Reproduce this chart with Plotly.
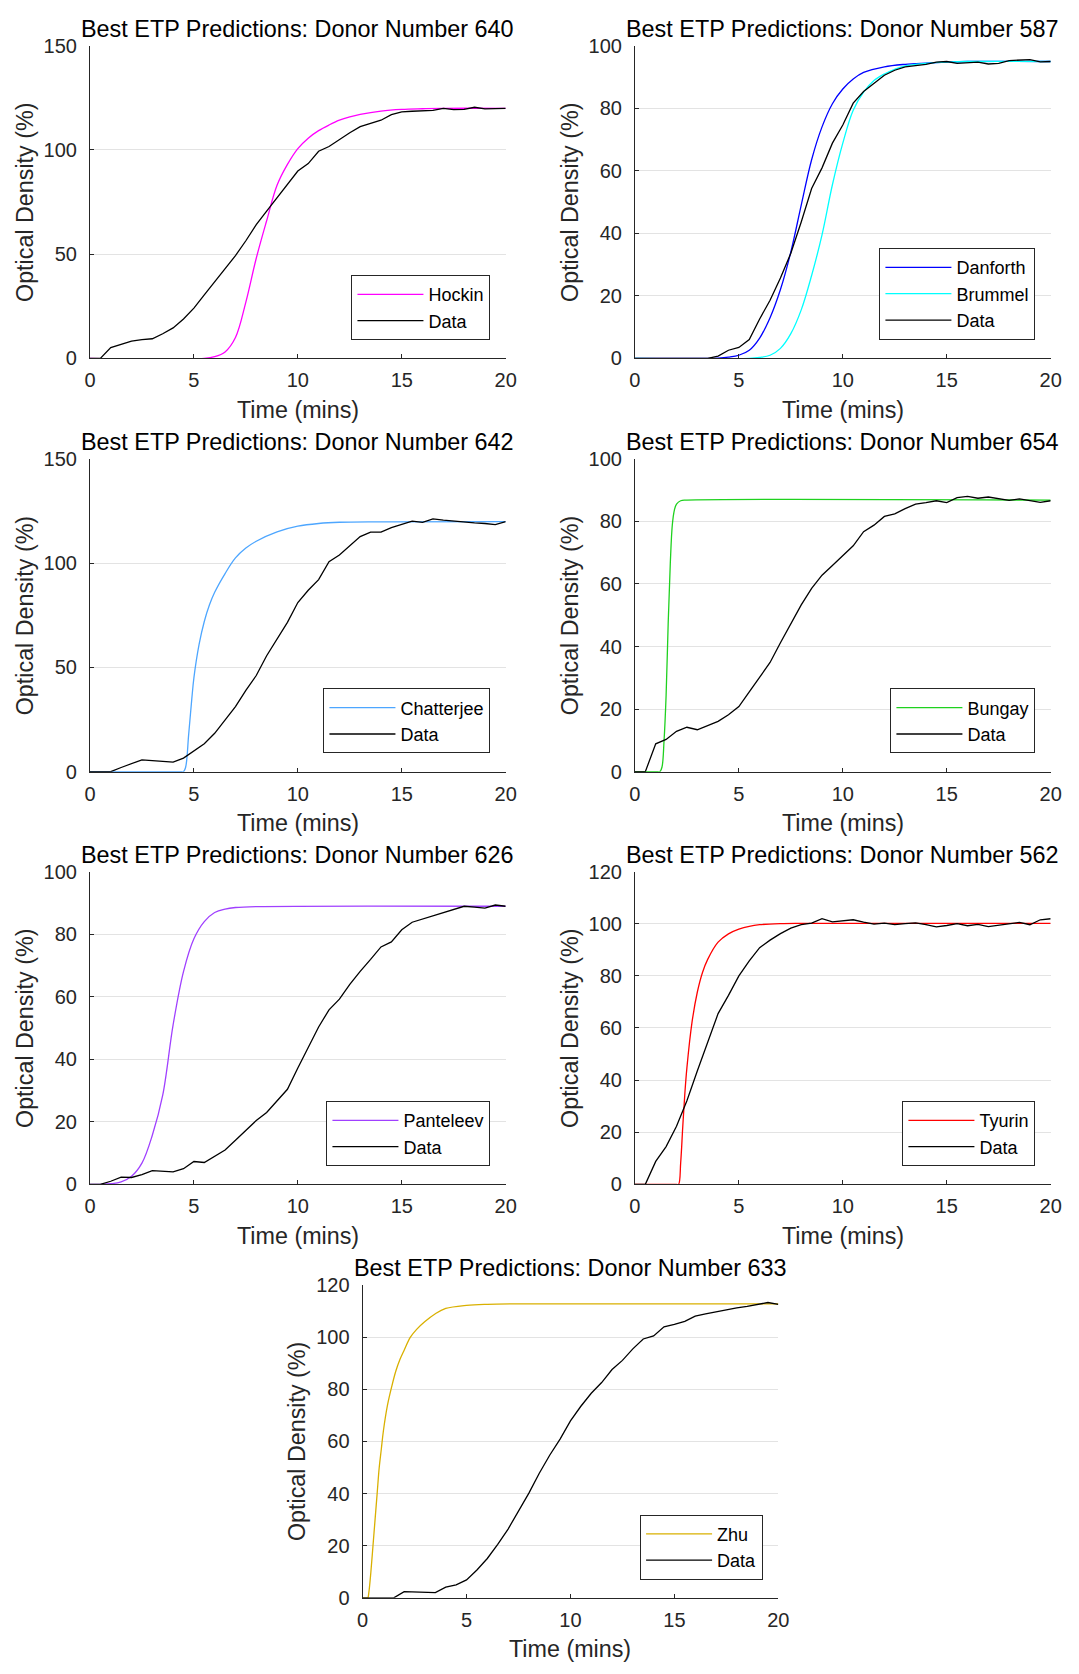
import plotly.graph_objects as go

W, H = 1079, 1674

# Sampling times of the measured curves (minutes)
t_data = [0, 0.5, 1, 1.5, 2, 2.5, 3, 3.5, 4, 4.5, 5, 5.5, 6, 6.5, 7, 7.5, 8, 8.5, 9, 9.5,
          10, 10.5, 11, 11.5, 12, 12.5, 13, 13.5, 14, 14.5, 15, 15.5, 16, 16.5, 17, 17.5,
          18, 18.5, 19, 19.5, 20]

# Measured optical density (%) per donor
data_640 = [0, 0, 5.2, 6.8, 8.3, 9.0, 9.4, 11.8, 14.6, 18.9, 24.1, 30.4, 36.7, 42.8, 49.3, 56.4,
            64.1, 70.6, 77.2, 83.5, 89.8, 93.4, 99.3, 101.6, 105.1, 108.2, 111.1, 112.6, 114.2,
            116.9, 118.2, 118.5, 118.6, 118.9, 119.9, 119.3, 119.4, 120.4, 119.6, 119.7, 119.9]
data_587 = [0, 0, 0, 0, 0, 0, 0, 0, 0.7, 2.6, 3.5, 6.0, 12.6, 18.6, 25.7, 33.6, 43.6, 54.3, 60.9,
            68.8, 74.6, 81.6, 85.3, 87.9, 90.5, 92.1, 93.2, 93.6, 94.0, 94.7, 94.9, 94.3, 94.5,
            94.7, 94.1, 94.3, 95.2, 95.4, 95.5, 94.8, 94.9]
data_642 = [0, 0, 0, 2.0, 3.9, 5.7, 5.3, 5.0, 4.6, 6.5, 9.9, 13.4, 18.4, 24.9, 31.2, 39.0, 46.1,
            55.6, 63.4, 71.6, 81.1, 87.0, 92.1, 100.7, 103.9, 108.3, 112.7, 114.9, 114.9, 117.0,
            118.5, 120.1, 119.5, 121.2, 120.6, 120.1, 119.8, 119.3, 119.0, 118.5, 119.9]
data_654 = [0, 0, 8.9, 10.3, 12.9, 14.2, 13.4, 14.8, 16.1, 18.2, 20.8, 25.5, 30.2, 34.9, 41.2,
            47.5, 53.3, 58.6, 62.8, 65.9, 69.0, 72.2, 76.7, 78.8, 81.6, 82.4, 84.1, 85.5, 86.0,
            86.6, 86.0, 87.6, 88.0, 87.4, 87.8, 87.2, 86.7, 87.2, 86.6, 86.1, 86.6]
data_626 = [0, 0, 1.0, 2.3, 2.2, 3.1, 4.4, 4.2, 4.0, 5.0, 7.3, 7.0, 8.9, 11.0, 14.1, 17.3, 20.4,
            23.0, 26.7, 30.4, 37.2, 44.0, 50.3, 55.8, 59.2, 63.9, 68.1, 71.9, 75.9, 77.5, 81.4,
            83.8, 84.8, 85.8, 86.8, 87.9, 88.9, 88.6, 88.3, 89.3, 88.9]
data_562 = [0, 0, 8.8, 14.5, 22.3, 32.1, 43.5, 54.8, 65.5, 72.5, 80.0, 85.7, 90.8, 93.7, 96.2,
            98.3, 99.6, 100.2, 101.9, 100.7, 101.1, 101.5, 100.6, 99.8, 100.2, 99.6, 100.0, 100.3,
            99.6, 98.8, 99.3, 100.0, 99.2, 99.7, 98.9, 99.5, 100.0, 100.5, 99.6, 101.5, 101.9]
data_633 = [0, 0, 0, 0, 2.4, 2.3, 2.1, 2.0, 4.1, 5.0, 6.9, 10.7, 15.1, 20.5, 26.4, 33.3, 40.2,
            47.8, 54.7, 60.9, 67.9, 73.5, 78.5, 82.6, 87.6, 91.1, 95.5, 99.3, 100.5, 104.0, 104.9,
            106.1, 108.1, 108.9, 109.7, 110.5, 111.2, 111.8, 112.6, 113.3, 112.6]

# Best-fitting model predictions (time, optical density %)
hockin_t = [0, 5.5, 6, 6.5, 7, 7.5, 8, 8.5, 9, 9.5, 10, 10.5, 11, 11.5, 12, 12.5, 13, 14, 15, 16, 17, 20]
hockin_y = [0, 0, 0.8, 3.1, 10, 27, 48, 66, 83, 93, 100.6, 105.6, 109.2, 111.9, 114.2, 115.8, 117,
            118.6, 119.4, 119.7, 119.9, 119.9]

danforth_t = [0, 3.5, 4, 4.5, 5, 5.5, 6, 6.5, 7, 7.5, 8, 8.5, 9, 9.5, 10, 10.5, 11, 12, 13, 14, 15, 16, 20]
danforth_y = [0, 0, 0.1, 0.4, 1.0, 2.6, 6.5, 13, 22, 34, 49, 63.5, 74, 81.4, 86.1, 89.3, 91.4,
              93.2, 94.0, 94.4, 94.7, 94.9, 94.9]

brummel_t = [0, 5.5, 6, 6.5, 7, 7.5, 8, 8.5, 9, 9.5, 10, 10.5, 11, 11.5, 12, 12.5, 13, 14, 15, 16, 20]
brummel_y = [0, 0, 0.3, 1.0, 3.2, 7.9, 15.5, 26.5, 39.5, 55.5, 68.8, 79.3, 85.1, 88.8, 90.9, 92.4,
             93.5, 94.3, 94.7, 94.9, 94.9]

chatterjee_t = [0, 4.4, 4.5, 4.6, 4.75, 4.9, 5, 5.25, 5.5, 5.75, 6, 6.5, 7, 7.5, 8, 9, 10, 11, 12, 14, 20]
chatterjee_y = [0, 0, 0, 2, 18, 35, 45, 61, 72, 80, 86, 95, 102.5, 107.2, 110.5, 115, 117.7, 119,
                119.6, 119.8, 119.9]

bungay_t = [0, 1.1, 1.2, 1.3, 1.4, 1.5, 1.6, 1.7, 1.8, 1.9, 2.0, 2.2, 2.5, 20]
bungay_y = [0, 0, 0, 1.4, 9.8, 24.4, 47.5, 66.4, 79, 83.7, 85.5, 86.6, 86.8, 86.8]

panteleev_t = [0, 0.5, 1, 1.5, 2, 2.5, 3, 3.5, 4, 4.5, 5, 5.5, 6, 6.5, 7, 8, 20]
panteleev_y = [0, 0, 0.2, 0.8, 2.6, 6.8, 15.7, 28.5, 51, 68, 78.5, 84, 86.9, 88, 88.5, 88.8, 88.9]

tyurin_t = [0, 2.0, 2.1, 2.2, 2.3, 2.4, 2.5, 2.75, 3, 3.25, 3.5, 4, 4.5, 5, 5.5, 6, 7, 8, 20]
tyurin_y = [0, 0, 0, 8.2, 22, 34.7, 44.7, 62.4, 73.7, 81.3, 86.3, 92.9, 96.1, 97.9, 99, 99.6,
            100, 100.1, 100.1]

zhu_t = [0, 0.2, 0.25, 0.3, 0.4, 0.5, 0.6, 0.7, 0.8, 0.9, 1.0, 1.2, 1.4, 1.6, 1.8, 2.0, 2.3,
         2.6, 3.0, 3.5, 4.0, 5, 6, 8, 20]
zhu_y = [0, 0, 0, 2, 10, 20, 30, 40, 50, 57, 64, 74, 81, 87, 91.5, 95, 100, 103, 106, 109, 111,
         112.2, 112.6, 112.8, 112.8]

donors = ["640", "587", "642", "654", "626", "562", "633"]
y_max = [150, 100, 150, 100, 100, 120, 120]
y_step = [50, 20, 50, 20, 20, 20, 20]
data_sets = [data_640, data_587, data_642, data_654, data_626, data_562, data_633]
models = [
    [("Hockin", hockin_t, hockin_y, "#ff00ff")],
    [("Danforth", danforth_t, danforth_y, "#0000ff"), ("Brummel", brummel_t, brummel_y, "#00ffff")],
    [("Chatterjee", chatterjee_t, chatterjee_y, "#4da6ff")],
    [("Bungay", bungay_t, bungay_y, "#1fd11f")],
    [("Panteleev", panteleev_t, panteleev_y, "#a040ff")],
    [("Tyurin", tyurin_t, tyurin_y, "#ff0000")],
    [("Zhu", zhu_t, zhu_y, "#d9b000")],
]

# Panel placement in pixels (left edge, top edge of the plotting area)
PW, PH = 422.4, 317.0
lefts = [85.3, 639.0, 85.3, 639.0, 85.3, 639.0, 362.3]
tops = [35.0, 35.0, 453.8, 453.8, 872.0, 872.0, 1291.0]

FONT = "Liberation Sans, Arial, Helvetica, sans-serif"
AX = "#262626"
GRID = "#e3e3e3"

fig = go.Figure()
layout = {}
annotations = []

for i in range(7):
    n = i + 1
    sx = "" if n == 1 else str(n)
    xa, ya = "x" + sx, "y" + sx
    leg = "legend" + sx
    left, top = lefts[i], tops[i]
    right, bottom = left + PW, top + PH

    for name, tt, yy, color in models[i]:
        fig.add_trace(go.Scatter(x=tt, y=yy, mode="lines", name=name,
                                 line=dict(color=color, width=1.3, shape="spline"),
                                 xaxis=xa, yaxis=ya, legend=leg, hoverinfo="skip"))
    fig.add_trace(go.Scatter(x=t_data, y=data_sets[i], mode="lines", name="Data",
                             line=dict(color="#000000", width=1.3),
                             xaxis=xa, yaxis=ya, legend=leg, hoverinfo="skip"))

    layout["xaxis" + sx] = dict(
        domain=[left / W, right / W], anchor=ya, range=[0, 20],
        tickvals=[0, 5, 10, 15, 20], showgrid=False, zeroline=False,
        showline=True, linecolor=AX, linewidth=1, ticks="inside", ticklen=4,
        tickcolor=AX, tickwidth=1, ticklabelstandoff=4,
        tickfont=dict(family=FONT, size=20, color=AX),
    )
    layout["yaxis" + sx] = dict(
        domain=[1 - bottom / H, 1 - top / H], anchor=xa, range=[0, y_max[i]],
        dtick=y_step[i], tick0=0, showgrid=True, gridcolor=GRID, gridwidth=1,
        zeroline=False, showline=True, linecolor=AX, linewidth=1, ticks="inside",
        ticklen=4, tickcolor=AX, tickwidth=1, ticklabelstandoff=8,
        tickfont=dict(family=FONT, size=20, color=AX),
    )
    layout[leg] = dict(
        x=(right - 15.5) / W, y=1 - (bottom - 18.5) / H, xanchor="right", yanchor="bottom",
        xref="paper", yref="paper", bgcolor="#ffffff", bordercolor=AX, borderwidth=1,
        font=dict(family=FONT, size=18, color="#000000"), itemwidth=66,
        traceorder="normal", tracegroupgap=0,
    )

    cx = (left + right) / 2
    annotations.append(dict(
        text="Best ETP Predictions: Donor Number " + donors[i], x=cx / W, y=1 - (top - 17) / H,
        xref="paper", yref="paper", xanchor="center", yanchor="middle", showarrow=False,
        font=dict(family=FONT, size=23.4, color="#000000")))
    annotations.append(dict(
        text="Time (mins)", x=cx / W, y=1 - (bottom + 52) / H,
        xref="paper", yref="paper", xanchor="center", yanchor="middle", showarrow=False,
        font=dict(family=FONT, size=23.3, color=AX)))
    annotations.append(dict(
        text="Optical Density (%)", x=(left - 66) / W, y=1 - ((top + bottom) / 2) / H,
        xref="paper", yref="paper", xanchor="center", yanchor="middle", showarrow=False,
        textangle=-90, font=dict(family=FONT, size=23.3, color=AX)))

fig.update_layout(
    width=W, height=H, margin=dict(l=0, r=0, t=0, b=0),
    paper_bgcolor="#ffffff", plot_bgcolor="#ffffff",
    font=dict(family=FONT, color=AX), annotations=annotations, hovermode=False,
    **layout,
)

fig.write_html("out.html")
